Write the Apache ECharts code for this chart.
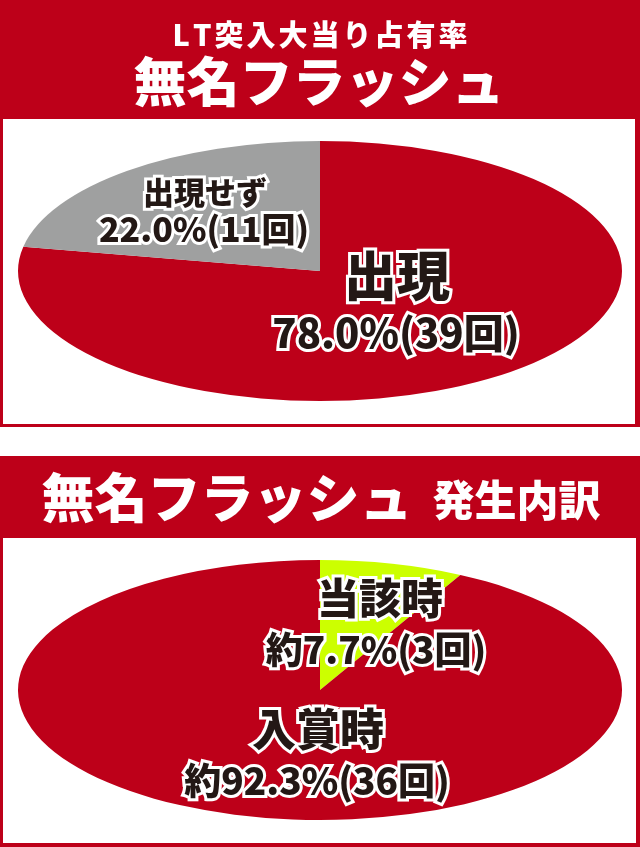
<!DOCTYPE html>
<html>
<head>
<meta charset="utf-8">
<script src="https://cdn.jsdelivr.net/npm/echarts@6/dist/echarts.min.js"></script>
<style>
html,body{margin:0;padding:0;background:#fff;}
#main{width:640px;height:847px;}
</style>
</head>
<body>
<div id="main"></div>
<script>
// ---- data ----
const topTitle1 = 'LT突入大当り占有率';
const topTitle2 = '無名フラッシュ';
const topCategories = ['出現', '出現せず'];
const topCounts = [39, 11];
const topPercents = ['78.0', '22.0'];

const bottomTitle1 = '無名フラッシュ';
const bottomTitle2 = '発生内訳';
const bottomCategories = ['当該時', '入賞時'];
const bottomCounts = [3, 36];
const bottomPercents = ['7.7', '92.3'];
const bottomPrefix = '約';

// ---- styles ----
const RED = '#bd0019';
const GRAY = '#9fa0a0';
const LIME = '#ccff00';
const FONT = '"Noto Sans CJK JP", "Noto Sans", sans-serif';
const INK = '#231815';

const chart = echarts.init(document.getElementById('main'), null, {renderer: 'canvas'});

function sliceData(counts) {
  const total = counts.reduce((a, b) => a + b, 0);
  let acc = 0;
  return counts.map(c => { const s = acc; acc += c; return [s / total, acc / total, c]; });
}

function ellipsePie(name, counts, colors, cx, cy, rx, ry) {
  return {
    type: 'custom',
    name: name,
    coordinateSystem: 'none',
    silent: true,
    data: sliceData(counts),
    renderItem: function (params, api) {
      const s = api.value(0), e = api.value(1);
      const a0 = -Math.PI / 2 + s * Math.PI * 2;
      const a1 = -Math.PI / 2 + e * Math.PI * 2;
      return {
        type: 'sector',
        shape: {cx: cx, cy: cy, r0: 0, r: rx, startAngle: a0, endAngle: a1, clockwise: true},
        scaleY: ry / rx,
        originX: cx,
        originY: cy,
        style: {fill: colors[params.dataIndex], stroke: null}
      };
    }
  };
}

function label(text, x, y, size) {
  return {
    type: 'text', x: x, y: y, z: 100,
    style: {
      text: text, fill: INK, font: '900 ' + size + 'px ' + FONT,
      align: 'center', verticalAlign: 'middle',
      stroke: '#fff', lineWidth: 6, lineJoin: 'round'
    }
  };
}

// spaced text via rich-text spacer tokens
function spaced(str) {
  return Array.from(str).map(ch => '{t|' + ch + '}').join('{sp| }');
}

const option = {
  animation: false,
  graphic: [
    // top panel
    {type: 'rect', z: -10, shape: {x: 0, y: 0, width: 640, height: 427}, style: {fill: RED}},
    {type: 'rect', z: -9, shape: {x: 3, y: 119, width: 632, height: 305}, style: {fill: '#fff'}},
    // bottom panel
    {type: 'rect', z: -10, shape: {x: 0, y: 456, width: 640, height: 391}, style: {fill: RED}},
    {type: 'rect', z: -9, shape: {x: 3, y: 538, width: 633, height: 305}, style: {fill: '#fff'}},
    // banner titles
    {type: 'text', x: 320, y: 35, style: {
      text: spaced(topTitle1), align: 'center', verticalAlign: 'middle',
      rich: {
        t: {fill: '#fff', font: '900 29px ' + FONT},
        sp: {width: 3, font: '29px ' + FONT}
      }
    }},
    {type: 'text', x: 319, y: 82, style: {text: topTitle2, fill: '#fff', font: '900 53px ' + FONT, align: 'center', verticalAlign: 'middle'}},
    {type: 'text', x: 321, y: 498, style: {
      text: '{a|' + bottomTitle1 + '}{s| }{b|' + bottomTitle2 + '}',
      align: 'center', verticalAlign: 'middle',
      rich: {
        a: {fill: '#fff', font: '900 53px ' + FONT},
        s: {width: 20, font: '30px ' + FONT},
        b: {fill: '#fff', font: '900 42px ' + FONT, padding: [4, 0, 0, 0]}
      }
    }},
    // pie labels
    label(topCategories[1], 205, 192, 31),
    label(topPercents[1] + '%(' + topCounts[1] + '回)', 204, 229, 34),
    label(topCategories[0], 397, 276, 53),
    label(topPercents[0] + '%(' + topCounts[0] + '回)', 396, 333, 40),
    label(bottomCategories[0], 380, 598, 42),
    label(bottomPrefix + bottomPercents[0] + '%(' + bottomCounts[0] + '回)', 376, 650, 37),
    label(bottomCategories[1], 318, 729, 44),
    label(bottomPrefix + bottomPercents[1] + '%(' + bottomCounts[1] + '回)', 317, 781, 37)
  ],
  series: [
    ellipsePie('top', topCounts, [RED, GRAY], 320, 271, 302, 130),
    ellipsePie('bottom', bottomCounts, [LIME, RED], 320, 690, 302, 130)
  ]
};
chart.setOption(option);
</script>
</body>
</html>
